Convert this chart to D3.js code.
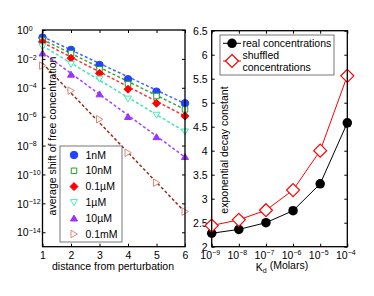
<!DOCTYPE html>
<html>
<head>
<meta charset="utf-8">
<script src="https://cdn.jsdelivr.net/npm/d3@7"></script>
<style>
  body { margin: 0; background: #fff; }
  svg { font-family: "Liberation Sans", Arial, sans-serif; }
</style>
</head>
<body>
<div id="chart"></div>
<script>
// left panel: average shift vs distance
const distances = [1, 2, 3, 4, 5, 6];
const concLabels = ["1nM", "10nM", "0.1\u00b5M", "1\u00b5M", "10\u00b5M", "0.1mM"];
const shift1nM   = [3.0e-1, 4.2e-2, 3.8e-3, 3.9e-4, 5.4e-5, 8.5e-6];
const shift10nM  = [2.0e-1, 2.5e-2, 1.9e-3, 1.8e-4, 2.7e-5, 3.2e-6];
const shift100nM = [1.5e-1, 1.1e-2, 1.0e-3, 7.9e-5, 8.5e-6, 1.1e-6];
const shift1uM   = [7.1e-2, 4.3e-3, 4.1e-4, 1.7e-5, 1.3e-6, 9.1e-8];
const shift10uM  = [2.5e-2, 8.5e-4, 3.7e-5, 1.0e-6, 4.0e-8, 1.7e-9];
const shift100uM = [3.4e-3, 6.3e-5, 6.6e-7, 3.2e-9, 2.7e-11, 2.7e-13];
// dashed fit lines, value at distance 1 and at distance 6
const fitStart = [3.5e-1, 2.2e-1, 1.4e-1, 8.0e-2, 2.8e-2, 5.0e-3];
const fitEnd   = [8.0e-6, 3.2e-6, 1.1e-6, 9.0e-8, 1.6e-9, 2.5e-13];
const leftYTicks = [1e0, 1e-2, 1e-4, 1e-6, 1e-8, 1e-10, 1e-12, 1e-14];

// right panel: decay constant vs Kd
const kdValues = [1e-9, 1e-8, 1e-7, 1e-6, 1e-5, 1e-4];
const realDecay = [2.28, 2.36, 2.50, 2.75, 3.31, 4.58];
const shuffledDecay = [2.44, 2.56, 2.76, 3.18, 4.00, 5.56];
const rightYTicks = [2, 2.5, 3, 3.5, 4, 4.5, 5, 5.5, 6, 6.5];

const width = 374, height = 296;

const svg = d3.select("#chart").append("svg")
    .attr("width", width)
    .attr("height", height);

// custom marker shapes (r = half size)
function shape(drawFn) {
    return { draw: function(ctx, size) { drawFn(ctx, Math.sqrt(size) / 2); } };
}
const triDown = shape((c, r) => { c.moveTo(-r, -r * 0.8); c.lineTo(r, -r * 0.8); c.lineTo(0, r * 0.9); c.closePath(); });
const triUp = shape((c, r) => { c.moveTo(-r, r * 0.8); c.lineTo(r, r * 0.8); c.lineTo(0, -r * 0.9); c.closePath(); });
const triRight = shape((c, r) => { c.moveTo(-r * 0.8, -r); c.lineTo(-r * 0.8, r); c.lineTo(r * 0.9, 0); c.closePath(); });
const diamond = shape((c, r) => { c.moveTo(0, -r); c.lineTo(r, 0); c.lineTo(0, r); c.lineTo(-r, 0); c.closePath(); });
const square = shape((c, r) => { c.rect(-r, -r, 2 * r, 2 * r); });
const circle = shape((c, r) => { c.moveTo(r, 0); c.arc(0, 0, r, 0, 2 * Math.PI); });

const series = [
    { values: shift1nM,   type: circle,   size: 7.5, fill: "#2244ff", stroke: "#2244ff", line: "#4466ff" },
    { values: shift10nM,  type: square,   size: 5.5, fill: "#fff",    stroke: "#22a022", line: "#33a833" },
    { values: shift100nM, type: diamond,  size: 8,   fill: "#ff0000", stroke: "#ff0000", line: "#ff3333" },
    { values: shift1uM,   type: triDown,  size: 7,   fill: "#fff",    stroke: "#40f0b0", line: "#40e8b0" },
    { values: shift10uM,  type: triUp,    size: 7,   fill: "#9933ff", stroke: "#9933ff", line: "#a044ff" },
    { values: shift100uM, type: triRight, size: 7.5, fill: "#fff",    stroke: "#e08878", line: "#a02818" }
];
series.forEach((s, i) => { s.label = concLabels[i]; s.fitA = fitStart[i]; s.fitB = fitEnd[i]; });

const sym = (type, sz) => d3.symbol().type(type).size(sz * sz)();

function addSup(sel, base, sup) {
    sel.text(base);
    sel.append("tspan").attr("dy", "-0.5em").style("font-size", "7px").text(sup);
}

// ---------- left panel ----------
const L = { left: 42.5, right: 185, top: 30, bottom: 246.7 };
const xL = d3.scaleLinear().domain([1, 6]).range([L.left, L.right]);
const yL = d3.scaleLog().domain([1e-15, 1]).range([L.bottom, L.top]);

const gL = svg.append("g");

gL.append("g")
    .attr("transform", `translate(0,${L.bottom})`)
    .call(d3.axisBottom(xL).tickValues(distances).tickSize(-3).tickPadding(4.5).tickFormat(d3.format("d")))
    .call(g => g.select(".domain").remove());
gL.append("g")
    .attr("transform", `translate(0,${L.top})`)
    .call(d3.axisTop(xL).tickValues(distances).tickSize(-3).tickFormat(""))
    .call(g => g.select(".domain").remove());
gL.append("g")
    .attr("transform", `translate(${L.left},0)`)
    .call(d3.axisLeft(yL).tickValues(leftYTicks).tickSize(-3).tickFormat(""))
    .call(g => g.select(".domain").remove())
    .call(g => g.selectAll(".tick").append("text")
        .attr("x", 17 - L.left)
        .attr("dy", "0.35em")
        .attr("fill", "#000")
        .attr("text-anchor", "start")
        .each(function(d) {
            const e = Math.round(Math.log10(d));
            addSup(d3.select(this), "10", e === 0 ? "0" : "\u2212" + Math.abs(e));
        }));
gL.append("g")
    .attr("transform", `translate(${L.right},0)`)
    .call(d3.axisRight(yL).tickValues(leftYTicks).tickSize(-3).tickFormat(""))
    .call(g => g.select(".domain").remove());
gL.selectAll(".tick text").style("font-size", "10.5px");

// fit lines
series.forEach(s => {
    gL.append("line")
        .attr("x1", xL(distances[0])).attr("y1", yL(s.fitA))
        .attr("x2", xL(distances[distances.length - 1])).attr("y2", yL(s.fitB))
        .attr("stroke", s.line)
        .attr("stroke-width", 1.5)
        .attr("stroke-dasharray", "3,2.2");
});

// markers
series.forEach(s => {
    gL.selectAll(null)
        .data(s.values)
        .enter()
        .append("path")
        .attr("transform", (d, i) => `translate(${xL(distances[i])},${yL(d)})`)
        .attr("d", sym(s.type, s.size))
        .attr("fill", s.fill)
        .attr("stroke", s.stroke)
        .attr("stroke-width", 1);
});

gL.append("rect")
    .attr("x", L.left).attr("y", L.top)
    .attr("width", L.right - L.left).attr("height", L.bottom - L.top)
    .attr("fill", "none").attr("stroke", "#000").attr("stroke-width", 1.3);

// legend
const legL = gL.append("g");
legL.append("rect")
    .attr("x", 60).attr("y", 146).attr("width", 62).attr("height", 96)
    .attr("fill", "#fff").attr("stroke", "#555").attr("stroke-width", 0.8);
series.forEach((s, i) => {
    const ly = 155 + i * 15.8;
    legL.append("path")
        .attr("transform", `translate(74,${ly})`)
        .attr("d", sym(s.type, s.size))
        .attr("fill", s.fill).attr("stroke", s.stroke).attr("stroke-width", 1);
    legL.append("text")
        .attr("x", 85.5).attr("y", ly).attr("dy", "0.35em")
        .style("font-size", "10.5px")
        .text(s.label);
});

gL.append("text")
    .attr("transform", "translate(52,136) rotate(-90)")
    .attr("text-anchor", "middle")
    .attr("dy", "0.35em")
    .style("font-size", "10.5px")
    .text("average shift of free concentration");

gL.append("text")
    .attr("x", 113).attr("y", 269.5)
    .attr("text-anchor", "middle")
    .style("font-size", "10.5px")
    .text("distance from perturbation");

// ---------- right panel ----------
const R = { left: 211.7, right: 347.3, top: 30.7, bottom: 246.7 };
const xR = d3.scaleLog().domain([1e-9, 1e-4]).range([R.left, R.right]);
const yR = d3.scaleLinear().domain([2, 6.5]).range([R.bottom, R.top]);

const gR = svg.append("g");

gR.append("g")
    .attr("transform", `translate(0,${R.bottom})`)
    .call(d3.axisBottom(xR).tickValues(kdValues).tickSize(-3).tickPadding(4.5).tickFormat(""))
    .call(g => g.select(".domain").remove())
    .call(g => g.selectAll(".tick text")
        .attr("text-anchor", "middle")
        .attr("x", -2)
        .each(function(d) {
            const e = Math.round(Math.log10(d));
            addSup(d3.select(this), "10", "\u2212" + Math.abs(e));
        }));
gR.append("g")
    .attr("transform", `translate(0,${R.top})`)
    .call(d3.axisTop(xR).tickValues(kdValues).tickSize(-3).tickFormat(""))
    .call(g => g.select(".domain").remove());
gR.append("g")
    .attr("transform", `translate(${R.left},0)`)
    .call(d3.axisLeft(yR).tickValues(rightYTicks).tickSize(-3).tickPadding(4).tickFormat(d3.format("")))
    .call(g => g.select(".domain").remove());
gR.append("g")
    .attr("transform", `translate(${R.right},0)`)
    .call(d3.axisRight(yR).tickValues(rightYTicks).tickSize(-3).tickFormat(""))
    .call(g => g.select(".domain").remove());
gR.selectAll(".tick text").style("font-size", "10.5px").attr("fill", "#000");

const lineR = (vals) => d3.line()
    .x((d, i) => xR(kdValues[i]))
    .y(d => yR(d))(vals);

gR.append("path").attr("d", lineR(realDecay))
    .attr("fill", "none").attr("stroke", "#000").attr("stroke-width", 1);
gR.append("path").attr("d", lineR(shuffledDecay))
    .attr("fill", "none").attr("stroke", "#ff0000").attr("stroke-width", 1);

gR.selectAll(null).data(realDecay).enter().append("path")
    .attr("transform", (d, i) => `translate(${xR(kdValues[i])},${yR(d)})`)
    .attr("d", sym(circle, 9.5))
    .attr("fill", "#000");
gR.selectAll(null).data(shuffledDecay).enter().append("path")
    .attr("transform", (d, i) => `translate(${xR(kdValues[i])},${yR(d)})`)
    .attr("d", sym(diamond, 13))
    .attr("fill", "#fff").attr("stroke", "#ff0000").attr("stroke-width", 1.2);

gR.append("rect")
    .attr("x", R.left).attr("y", R.top)
    .attr("width", R.right - R.left).attr("height", R.bottom - R.top)
    .attr("fill", "none").attr("stroke", "#000").attr("stroke-width", 1.3);

// legend
const legR = gR.append("g");
legR.append("rect")
    .attr("x", 220).attr("y", 35).attr("width", 114).attr("height", 40)
    .attr("fill", "#fff").attr("stroke", "#555").attr("stroke-width", 0.8);
legR.append("line").attr("x1", 223).attr("x2", 241).attr("y1", 43.3).attr("y2", 43.3)
    .attr("stroke", "#000");
legR.append("path").attr("transform", "translate(232,43.3)")
    .attr("d", sym(circle, 9.5)).attr("fill", "#000");
legR.append("text").attr("x", 242.5).attr("y", 43.3).attr("dy", "0.35em")
    .style("font-size", "10.5px").text("real concentrations");
legR.append("line").attr("x1", 223).attr("x2", 241).attr("y1", 61).attr("y2", 61)
    .attr("stroke", "#ff0000");
legR.append("path").attr("transform", "translate(232,61)")
    .attr("d", sym(diamond, 13)).attr("fill", "#fff").attr("stroke", "#ff0000").attr("stroke-width", 1.2);
legR.append("text").attr("x", 242.5).attr("y", 55).attr("dy", "0.35em")
    .style("font-size", "10.5px").text("shuffled");
legR.append("text").attr("x", 242.5).attr("y", 67).attr("dy", "0.35em")
    .style("font-size", "10.5px").text("concentrations");

gR.append("text")
    .attr("transform", "translate(224,150) rotate(-90)")
    .attr("text-anchor", "middle")
    .attr("dy", "0.35em")
    .style("font-size", "10.5px")
    .text("exponential decay constant");

const xlab = gR.append("text")
    .attr("x", 282).attr("y", 270.5)
    .attr("text-anchor", "middle")
    .style("font-size", "10.5px");
xlab.append("tspan").text("K");
xlab.append("tspan").attr("dy", "0.3em").style("font-size", "7px").text("d");
xlab.append("tspan").attr("dy", "-0.3em").text(" (Molars)");
</script>
</body>
</html>
